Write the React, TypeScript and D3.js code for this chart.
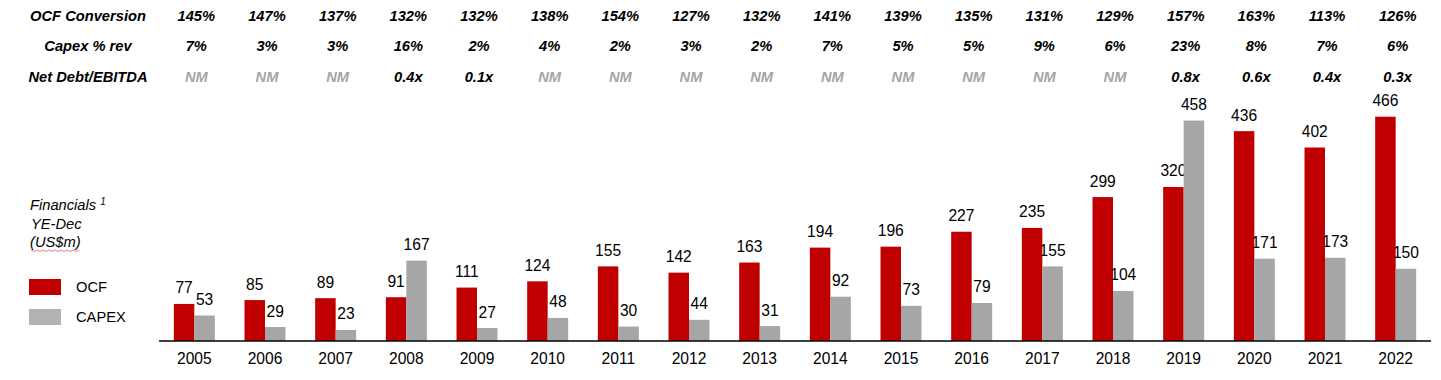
import React from "react";
import * as d3 from "d3";

const years = ["2005","2006","2007","2008","2009","2010","2011","2012","2013","2014","2015","2016","2017","2018","2019","2020","2021","2022"];
const ocf = [77,85,89,91,111,124,155,142,163,194,196,227,235,299,320,436,402,466];
const capex = [53,29,23,167,27,48,30,44,31,92,73,79,155,104,458,171,173,150];
const ocfConversion = ["145%","147%","137%","132%","132%","138%","154%","127%","132%","141%","139%","135%","131%","129%","157%","163%","113%","126%"];
const capexPctRev = ["7%","3%","3%","16%","2%","4%","2%","3%","2%","7%","5%","5%","9%","6%","23%","8%","7%","6%"];
const netDebtEbitda = ["NM","NM","NM","0.4x","0.1x","NM","NM","NM","NM","NM","NM","NM","NM","NM","0.8x","0.6x","0.4x","0.3x"];
const seriesNames = ["OCF","CAPEX"];

const RED = "#c00000";
const GREY = "#a6a6a6";
const GREY_LEGEND = "#b3b3b3";
const FONT = "Arial, 'Liberation Sans', sans-serif";

export default function App() {
  const W = 1441, H = 380;
  const baseline = 341;
  const x0 = d3.scaleBand<string>().domain(years).range([159, 1431]).paddingInner(0.42).paddingOuter(0.21);
  const x1 = d3.scaleBand<string>().domain(seriesNames).range([0, x0.bandwidth()]);
  const y = d3.scaleLinear().domain([0, 466]).range([baseline, 116.7]);
  const values: Record<string, number[]> = { OCF: ocf, CAPEX: capex };
  const colors: Record<string, string> = { OCF: RED, CAPEX: GREY };

  const rows = [
    { label: "OCF Conversion", vals: ocfConversion, yPos: 21 },
    { label: "Capex % rev", vals: capexPctRev, yPos: 51 },
    { label: "Net Debt/EBITDA", vals: netDebtEbitda, yPos: 82 },
  ];

  // wavy spell-check underline
  const wave = d3.range(0, 17).map((i) => [31 + i * 3, 250 + (i % 2 === 0 ? 0 : 1.5)] as [number, number]);
  const waveLine = d3.line()(wave) || "";

  return (
    <svg width={W} height={H} style={{ position: "absolute", left: 0, top: 0, background: "#fff" }} fontFamily={FONT}>
      {/* table */}
      {rows.map((r) => (
        <g key={r.label}>
          <text x={88} y={r.yPos} textAnchor="middle" fontSize={14.7} fontWeight="bold" fontStyle="italic" fill="#000">{r.label}</text>
          {r.vals.map((v, i) => (
            <text key={i} x={(x0(years[i]) as number) + x0.bandwidth() / 2 + 2} y={r.yPos} textAnchor="middle" fontSize={14.7} fontWeight="bold" fontStyle="italic" fill={v === "NM" ? "#a6a6a6" : "#000"}>{v}</text>
          ))}
        </g>
      ))}

      {/* legend block */}
      <text x={30} y={210} fontSize={14.7} fontStyle="italic" fill="#000">Financials <tspan fontSize={10} dy={-5}>1</tspan></text>
      <text x={31} y={229} fontSize={14.7} fontStyle="italic" fill="#000">YE-Dec</text>
      <text x={30} y={247} fontSize={14.7} fontStyle="italic" fill="#000">(US$m)</text>
      <path d={waveLine} fill="none" stroke="#e06060" strokeWidth={0.8} />

      <rect x={29} y={279} width={32} height={16} fill={RED} />
      <text x={76} y={292} fontSize={14.7} fill="#000">OCF</text>
      <rect x={29} y={309} width={32} height={16} fill={GREY_LEGEND} />
      <text x={76} y={322} fontSize={14.7} fill="#000">CAPEX</text>

      {/* bars */}
      {years.map((yr, i) => (
        <g key={yr} transform={`translate(${x0(yr)},0)`}>
          {seriesNames.map((s) => {
            const v = values[s][i];
            const bx = x1(s) as number;
            return (
              <g key={s}>
                <rect x={bx} y={y(v)} width={x1.bandwidth()} height={baseline - y(v)} fill={colors[s]} />
                <text x={bx + x1.bandwidth() / 2} y={y(v) - 10.5} textAnchor="middle" fontSize={15.6} fill="#000">{v}</text>
              </g>
            );
          })}
          <text x={x0.bandwidth() / 2} y={363.5} textAnchor="middle" fontSize={15.6} fill="#000">{yr}</text>
        </g>
      ))}

      {/* axis line */}
      <line x1={x0.range()[0]} x2={x0.range()[1]} y1={baseline} y2={baseline} stroke="#000" strokeWidth={1.3} />
    </svg>
  );
}
